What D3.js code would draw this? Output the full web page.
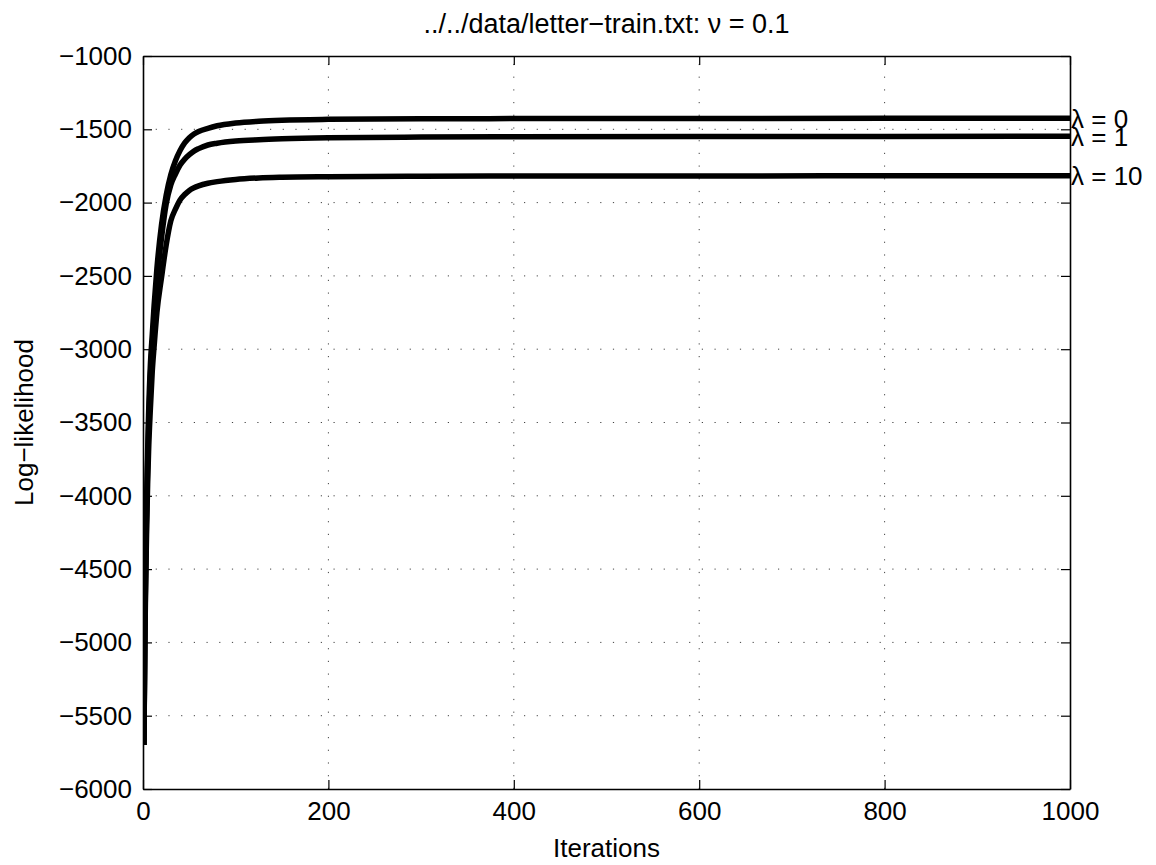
<!DOCTYPE html>
<html>
<head>
<meta charset="utf-8">
<script src="https://cdn.jsdelivr.net/npm/d3@7/dist/d3.min.js"></script>
<style>
  html, body { margin: 0; padding: 0; background: #fff; }
  svg { display: block; }
  text { font-family: "Liberation Sans", Arial, Helvetica, sans-serif; fill: #000; }
</style>
</head>
<body>
<svg id="chart" width="1156" height="865"></svg>
<script>
const iterations = [1, 2, 3, 4, 5, 6, 8, 10, 12, 15, 20, 25, 30, 35, 40, 45, 50, 55, 60, 70, 80, 100, 125, 150, 200, 300, 400, 600, 800, 1000];
const lambda0 = [-5700, -4900, -4400, -4000, -3700, -3450, -3100, -2900, -2700, -2450, -2150, -1950, -1810, -1715, -1645, -1593, -1557, -1532, -1515, -1493, -1476, -1457, -1445, -1438, -1432, -1428, -1427, -1426, -1425, -1425];
const lambda1 = [-5700, -4950, -4450, -4080, -3780, -3540, -3180, -2980, -2780, -2540, -2240, -2010, -1880, -1805, -1744, -1703, -1673, -1649, -1632, -1607, -1595, -1580, -1571, -1565, -1558, -1553, -1551, -1549.5, -1548.5, -1548];
const lambda10 = [-5700, -5000, -4550, -4200, -3920, -3700, -3400, -3150, -2980, -2750, -2510, -2290, -2125, -2045, -1982, -1945, -1917, -1899, -1886, -1868, -1857, -1842, -1832, -1827, -1823, -1820, -1819, -1818, -1817.5, -1817];
const seriesNames = ["λ = 0", "λ = 1", "λ = 10"];
const xTicks = [0, 200, 400, 600, 800, 1000];
const yTicks = [-1000, -1500, -2000, -2500, -3000, -3500, -4000, -4500, -5000, -5500, -6000];
const titleText = "../../data/letter\u2212train.txt: \u03bd = 0.1";
const xLabel = "Iterations";
const yLabel = "Log\u2212likelihood";

const series = [lambda0, lambda1, lambda10].map((vals, i) => ({
  name: seriesNames[i],
  points: iterations.map((it, j) => ({ x: it, y: vals[j] }))
}));

const L = 143, R = 1070, T = 56, B = 789;
const svg = d3.select("#chart");
const x = d3.scaleLinear().domain([0, 1000]).range([L, R]);
const y = d3.scaleLinear().domain([-6000, -1000]).range([B, T]);
const fs = 26;
const minus = v => String(v).replace("-", "\u2212");

// grid
const grid = svg.append("g");
xTicks.slice(1, -1).forEach(t => {
  grid.append("line").attr("x1", x(t)).attr("x2", x(t)).attr("y1", B).attr("y2", T)
    .attr("stroke", "#444").attr("stroke-width", 1).attr("stroke-dasharray", "1.2,11.5");
});
yTicks.slice(1, -1).forEach(t => {
  grid.append("line").attr("x1", L).attr("x2", R).attr("y1", y(t)).attr("y2", y(t))
    .attr("stroke", "#444").attr("stroke-width", 1).attr("stroke-dasharray", "1.2,11.5");
});

// lines
svg.append("defs").append("clipPath").attr("id", "clip")
  .append("rect").attr("x", L).attr("y", T).attr("width", R - L).attr("height", B - T);
const line = d3.line().x(d => x(d.x)).y(d => y(d.y)).curve(d3.curveMonotoneX);
svg.append("g").attr("clip-path", "url(#clip)").selectAll("path").data(series).join("path")
  .attr("d", d => line(d.points)).attr("fill", "none").attr("stroke", "#000")
  .attr("stroke-width", 5.5).attr("stroke-linejoin", "round");

// axes (box with inward ticks on all sides)
const axB = d3.axisBottom(x).tickValues(xTicks).tickSizeInner(-9).tickSizeOuter(0).tickPadding(10).tickFormat(d => d);
const axT = d3.axisTop(x).tickValues(xTicks).tickSizeInner(-9).tickSizeOuter(0).tickFormat("");
const axL = d3.axisLeft(y).tickValues(yTicks).tickSizeInner(-9).tickSizeOuter(0).tickPadding(10).tickFormat(minus);
const axR = d3.axisRight(y).tickValues(yTicks).tickSizeInner(-9).tickSizeOuter(0).tickFormat("");

function style(g) {
  g.select(".domain").attr("stroke", "#000").attr("stroke-width", 1.6);
  g.selectAll(".tick line").attr("stroke", "#000").attr("stroke-width", 1.2);
  g.selectAll(".tick text").attr("font-size", fs).attr("font-family", "Liberation Sans, Arial, sans-serif").attr("fill", "#000");
}
svg.append("g").attr("transform", `translate(0,${B})`).call(axB).call(style)
  .selectAll(".tick text").attr("dy", "0.95em").attr("y", 6);
svg.append("g").attr("transform", `translate(0,${T})`).call(axT).call(style);
svg.append("g").attr("transform", `translate(${L},0)`).call(axL).call(style)
  .selectAll(".tick text").attr("x", -11);
svg.append("g").attr("transform", `translate(${R},0)`).call(axR).call(style);

// series labels at right end
svg.append("g").selectAll("text").data(series).join("text")
  .attr("x", R + 1).attr("y", d => y(d.points[d.points.length - 1].y))
  .attr("dy", "0.36em").attr("font-size", fs).text(d => d.name);

// title and axis labels
svg.append("text").attr("x", (L + R) / 2).attr("y", 33).attr("text-anchor", "middle")
  .attr("font-size", 27).text(titleText);
svg.append("text").attr("x", (L + R) / 2).attr("y", 857).attr("text-anchor", "middle")
  .attr("font-size", fs).text(xLabel);
svg.append("text").attr("transform", `translate(33,${(T + B) / 2}) rotate(-90)`)
  .attr("text-anchor", "middle").attr("font-size", fs).text(yLabel);
</script>
</body>
</html>
